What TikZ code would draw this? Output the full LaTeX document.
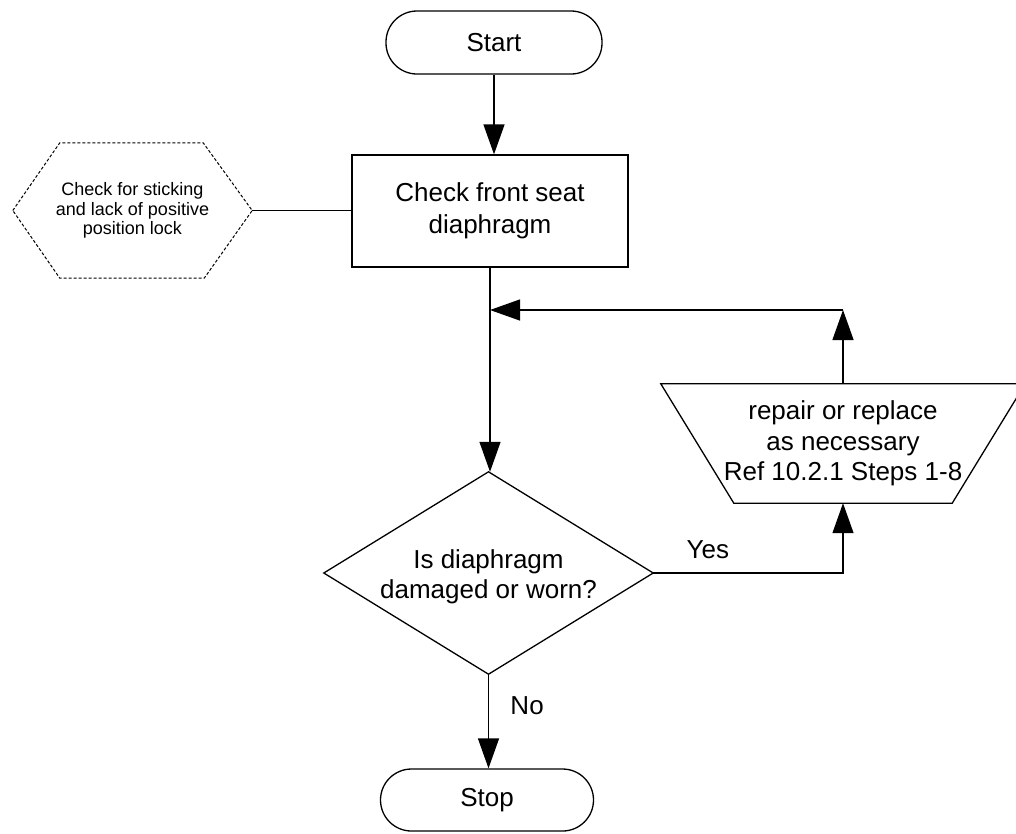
\documentclass[tikz,border=0pt]{standalone}
\usepackage{fontspec}
\setmainfont{Liberation Sans}
\usetikzlibrary{arrows.meta,calc}

\tikzset{
  flow/.style={line width=1.3pt, draw=black},
  arr/.style={flow, -{Triangle[length=30pt,width=21pt]}},
  terminal/.style={flow, rectangle, rounded corners=31pt, inner sep=0pt,
    font=\fontsize{26pt}{30pt}\selectfont, align=center},
  process/.style={flow, rectangle, inner sep=0pt,
    font=\fontsize{26pt}{32pt}\selectfont, align=center},
  plain/.style={rectangle, inner sep=0pt, align=center},
  bigtext/.style={font=\fontsize{26pt}{30.5pt}\selectfont},
  smalltext/.style={font=\fontsize{18pt}{19.5pt}\selectfont},
}

\begin{document}
\begin{tikzpicture}[x=1pt, y=-1pt]
  \useasboundingbox (0,0) rectangle (1016,833);

  % terminals and the main check
  \node[terminal, minimum width=216pt, minimum height=63pt] (start) at (494,42.5) {Start};
  \node[process, minimum width=276pt, minimum height=112pt] (check) at (490,211)
    {Check front seat\\diaphragm};
  \node[terminal, minimum width=213pt, minimum height=62pt] (stop) at (487,800) {Stop};

  % dashed hexagon annotation
  \node[plain, smalltext, minimum width=239pt, minimum height=135pt] (hex) at (132.5,210.5)
    {Check for sticking\\and lack of positive\\position lock};
  \draw[line width=1pt, dash pattern=on 3pt off 2pt]
    (hex.west) -- ($(hex.north west)+(47,0)$) -- ($(hex.north east)+(-49,0)$)
    -- (hex.east) -- ($(hex.south east)+(-48,0)$) -- ($(hex.south west)+(47,0)$) -- cycle;

  % decision diamond
  \node[plain, minimum width=329pt, minimum height=202pt] (dia) at (488.5,573) {};
  \draw[flow] (dia.north) -- (dia.east) -- (dia.south) -- (dia.west) -- cycle;
  \node[plain, bigtext] (diatext) at ($(dia.center)+(0,4)$) {Is diaphragm\\damaged or worn?};

  % repair trapezoid (wide side on top)
  \node[plain, bigtext, minimum width=364pt, minimum height=119pt] (trap) at (843,443.5)
    {repair or replace\\as necessary\\Ref 10.2.1 Steps 1-8};
  \draw[flow] (trap.north west) -- (trap.north east)
    -- ($(trap.south east)+(-73,0)$) -- ($(trap.south west)+(73,0)$) -- cycle;

  % connectors
  \coordinate (join) at (check.south |- 0,310);
  \coordinate (loopturn) at (trap.north |- join);
  \draw[arr] (start.south) -- (start.south |- check.north);
  \draw[flow] (hex.east) -- (hex.east -| check.west);
  \draw[arr] (check.south) -- (check.south |- dia.north);
  \draw[arr] (trap.north) -- (loopturn);
  \draw[arr] (loopturn) -- (join);
  \draw[arr] (dia.east) -| (trap.south)
    node[pos=0.144, above=10pt, bigtext] (yes) {Yes};
  \draw[arr] (dia.south) -- (dia.south |- stop.north)
    node[midway, right=18pt, yshift=16pt, bigtext] (no) {No};
\end{tikzpicture}
\end{document}
